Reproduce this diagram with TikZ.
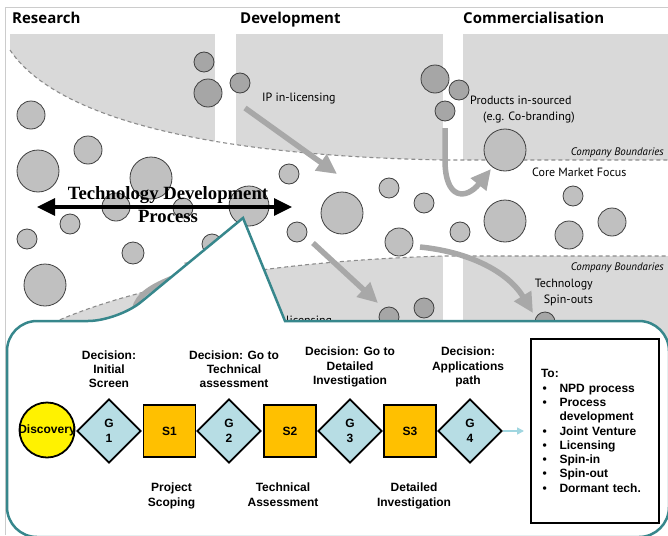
\documentclass[tikz,border=0pt]{standalone}
\usepackage{fontspec}
\setmainfont{Liberation Serif}
\newfontfamily\labelfont{PT Sans}
\newfontfamily\phasefont{Open Sans}
\newfontfamily\chartfont{Liberation Sans}
\usetikzlibrary{arrows.meta,shapes.geometric,positioning}

\definecolor{panelgray}{RGB}{217,217,217}
\definecolor{bubblelight}{RGB}{192,192,192}
\definecolor{bubbledark}{RGB}{166,166,166}
\definecolor{flowgray}{RGB}{168,168,168}
\definecolor{calloutteal}{RGB}{55,135,140}
\definecolor{gatefill}{RGB}{183,221,228}
\definecolor{stagefill}{RGB}{255,192,0}
\definecolor{linkblue}{RGB}{160,214,224}

\newcommand\listbullet{\hspace*{1.5pt}\makebox[17pt][l]{\textbullet}}

\tikzset{
  bubble/.style={draw=black!75, line width=0.8pt, fill=bubblelight},
  darkbubble/.style={bubble, fill=bubbledark},
  boundary/.style={draw=black!45, line width=1.1pt, dash pattern=on 4pt off 3pt},
  flow/.style={draw=flowgray, line width=5.5pt, -{Triangle[length=20pt,width=19pt]}},
  phase/.style={font=\phasefont\bfseries\fontsize{15}{18}\selectfont, anchor=base west, inner sep=0},
  note/.style={font=\labelfont\fontsize{12}{15.5}\selectfont, inner sep=0},
  boundlabel/.style={font=\labelfont\itshape\fontsize{10.9}{13}\selectfont, anchor=base east, inner sep=0},
  tdtext/.style={font=\bfseries\fontsize{18.7}{23}\selectfont, align=center, inner sep=0},
  tdarrow/.style={line width=3.2pt, {Triangle[length=18pt,width=17pt]}-{Triangle[length=18pt,width=17pt]}},
  callout/.style={draw=calloutteal, line width=2.5pt, fill=white, line join=miter},
  start/.style={circle, draw, line width=1.8pt, fill=yellow, minimum size=55pt, inner sep=0},
  gate/.style={diamond, draw, line width=1.8pt, fill=gatefill, minimum width=64pt, minimum height=64pt,
    inner sep=0, align=center, font=\chartfont\bfseries\fontsize{12}{15}\selectfont},
  stage/.style={rectangle, draw, line width=1.8pt, fill=stagefill, minimum size=52pt,
    font=\chartfont\bfseries\fontsize{12}{14}\selectfont},
  decision/.style={align=center, inner sep=0, font=\chartfont\bfseries\fontsize{12}{14.3}\selectfont},
  listbox/.style={draw, line width=2pt, minimum width=128pt, minimum height=184pt, text width=108pt,
    inner xsep=10pt, align=left, font=\chartfont\bfseries\fontsize{12}{14.3}\selectfont},
  link/.style={draw=linkblue, line width=1.5pt, -{Triangle[length=7pt,width=7pt]}, shorten >=6pt}
}

\begin{document}
\begin{tikzpicture}[x=1pt,y=-1pt]
  \useasboundingbox (0,0) rectangle (668,535);
  \draw[black!20, line width=0.8pt] (5,535) -- (5,7) -- (668,7);

  % company panels above and below the core band
  \begin{scope}
    \clip (0,0) -- (0,50) -- (10,50) .. controls (50,110) and (180,155) .. (443,160) -- (668,160) -- (668,0) -- cycle;
    \fill[panelgray] (10,34) rectangle (215,200);
    \fill[panelgray] (236,34) rectangle (443,200);
    \fill[panelgray] (463,34) rectangle (668,200);
  \end{scope}
  \begin{scope}
    \clip (10,345) .. controls (100,290) and (250,262) .. (443,256) -- (668,256) -- (668,400) -- (10,400) -- cycle;
    \fill[panelgray] (10,240) rectangle (215,340);
    \fill[panelgray] (236,240) rectangle (443,340);
    \fill[panelgray] (463,240) rectangle (668,340);
  \end{scope}
  \draw[boundary] (10,50) .. controls (50,110) and (180,155) .. (443,160) -- (668,160);
  \draw[boundary] (10,345) .. controls (100,290) and (250,262) .. (443,256) -- (668,256);

  \node[phase] (research) at (12,24) {Research};
  \node[phase] (development) at (240,24) {Development};
  \node[phase] (commercial) at (463,24) {Commercialisation};

  % technologies
  \foreach \x/\y/\r in {31/115/14, 88/150/14, 38/171/21, 151/178/21, 289/174/10, 505/150/21,
    116/207/14, 183/208/10, 249/206/20, 70/224/10, 27/239/10, 133/253/11, 45/285/21, 212/244/10,
    297/232/10, 342/213/21, 389/188/10, 424/203/10, 399/242/14, 460/232/10, 505/221/21,
    573/196/10, 569/235/14, 612/222/14}
    \draw[bubble] (\x,\y) circle[radius=\r];
  \foreach \x/\y/\r in {204/62/10, 208/93/14, 240/83/10, 435/79/14, 459/90/10, 445/111/10,
    389/317/10, 424/308/10, 545/322/10}
    \draw[darkbubble] (\x,\y) circle[radius=\r];

  \coordinate (inlicA) at (245,108);
  \coordinate (inlicB) at (337,174);
  \coordinate (insrcA) at (445,128);
  \coordinate (insrcB) at (491,169);
  \coordinate (spinA) at (420,247);
  \coordinate (spinB) at (533,313);
  \coordinate (outlicA) at (313,243);
  \coordinate (outlicB) at (378,303);
  \coordinate (lowA) at (140,328);
  \coordinate (lowB) at (206,258);
  \draw[flow] (inlicA) -- (inlicB);
  \draw[flow] (insrcA) -- ++(0,32) .. controls (445,200) and (466,200) .. (insrcB);
  \draw[flow] (spinA) .. controls (470,252) and (508,272) .. (spinB);
  \draw[flow] (outlicA) -- (outlicB);
  \draw[flow] (lowA) .. controls (115,290) and (182.8,277.1) .. (lowB);

  \node[note, anchor=base west] (inlic) at (262,101.5) {IP in-licensing};
  \node[note, anchor=base west] (outlic) at (286,324) {licensing};
  \node[note, anchor=north west, align=left] (insrc) at (470,96) {Products in-sourced\\\hspace*{13pt}(e.g. Co-branding)};
  \node[note, anchor=base west] (core) at (532,176.5) {Core Market Focus};
  \node[note, anchor=north east, align=right] (spin) at (593,279) {Technology\\Spin-outs};
  \node[boundlabel] (cbtop) at (664,155) {Company Boundaries};
  \node[boundlabel] (cbbot) at (664,270) {Company Boundaries};

  \coordinate (tdleft) at (37,207);
  \coordinate (tdright) at (292,207);
  \draw[tdarrow] (tdleft) -- (tdright);
  \node[tdtext] (tdp) at (168,205) {Technology Development\\Process};

  % stage-gate call-out
  \draw[callout] (285,321) [rounded corners=30pt] -- (669,321) -- (669,537) -- (7,537) -- (7,321) -- (118,321)
    [sharp corners] -- (243,218) -- cycle;

  \node[start, label={[font=\chartfont\bfseries\fontsize{12}{14}\selectfont]center:Discovery}] (disc) at (47,430) {};
  \node[gate] (g1) at (109,431) {G\\1};
  \node[stage] (s1) at (169.5,431) {S1};
  \node[gate] (g2) at (229,431) {G\\2};
  \node[stage] (s2) at (290,431) {S2};
  \node[gate] (g3) at (350,431) {G\\3};
  \node[stage] (s3) at (410,431) {S3};
  \node[gate] (g4) at (470,431) {G\\4};

  \node[decision, above=10pt of g1] (d1) {Decision:\\Initial\\Screen};
  \node[decision, above=10pt of g2, xshift=5pt] (d2) {Decision: Go to\\Technical\\assessment};
  \node[decision, above=11pt of g3] (d3) {Decision: Go to\\Detailed\\Investigation};
  \node[decision, above=11pt of g4, xshift=-2pt] (d4) {Decision:\\Applications\\path};

  \node[decision, below=25pt of s1, xshift=2pt] (p1) {Project\\Scoping};
  \node[decision, below=25pt of s2, xshift=-7pt] (p2) {Technical\\Assessment};
  \node[decision, below=25pt of s3, xshift=4pt] (p3) {Detailed\\Investigation};

  \node[listbox] (tobox) at (595,431) {To:\\
    \listbullet NPD process\\
    \listbullet Process\\
    \hspace*{18.5pt}development\\
    \listbullet Joint Venture\\
    \listbullet Licensing\\
    \listbullet Spin-in\\
    \listbullet Spin-out\\
    \listbullet Dormant tech.};
  \draw[link] (g4) -- (tobox);
\end{tikzpicture}
\end{document}
